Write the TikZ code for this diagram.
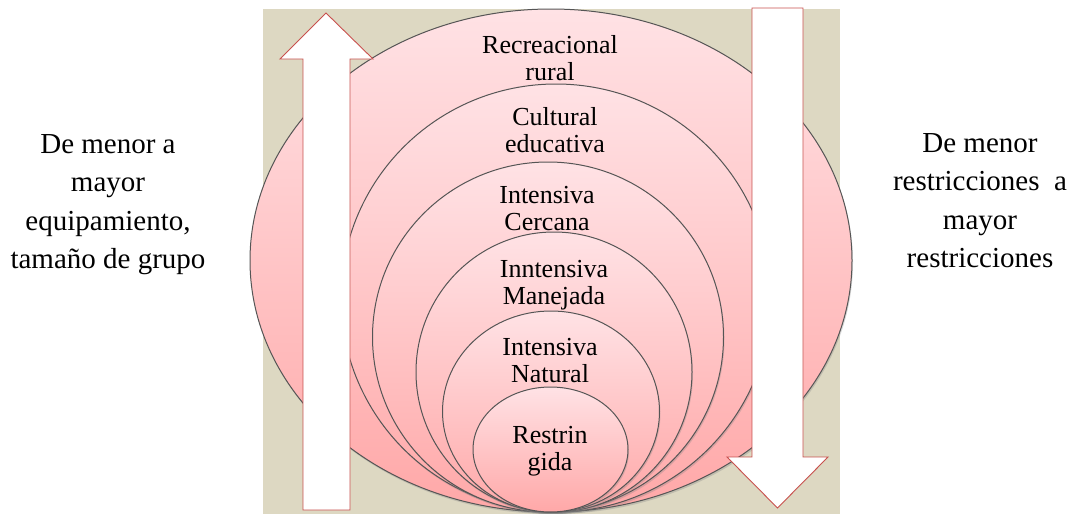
\documentclass[tikz,border=0pt]{standalone}
\usepackage{fontspec}
\setmainfont{Liberation Serif}
\usetikzlibrary{shapes.geometric,shadows}
\definecolor{beige}{RGB}{221,216,194}
\definecolor{pinktop}{RGB}{255,226,229}
\definecolor{pinkbot}{RGB}{255,168,168}
\definecolor{ringline}{RGB}{85,85,85}
\definecolor{arrowred}{RGB}{200,80,77}
\begin{document}
\begin{tikzpicture}[x=1pt,y=-1pt,
  ring/.style={ellipse, draw=ringline, line width=1pt, top color=pinktop, bottom color=pinkbot,
    inner sep=0pt, drop shadow={shadow xshift=1pt,shadow yshift=-2pt,opacity=0.3}},
  ringtext/.style={align=center, font=\fontsize{26}{27}\selectfont, anchor=base, inner sep=0pt},
  sidetext/.style={align=center, font=\fontsize{29}{38.5}\selectfont, anchor=base, inner sep=0pt},
  blockarrow/.style={fill=white, draw=arrowred, line width=0.9pt, line join=miter}]
\useasboundingbox (0,0) rectangle (1077,514);
\fill[beige] (263,8.5) rectangle (840,514);
% nested rings
\node[ring, minimum width=602pt, minimum height=503pt] (e1) at (551,260.5) {};
\node[ring, minimum width=430pt, minimum height=428pt] (e2) at (556,298) {};
\node[ring, minimum width=351pt, minimum height=350pt] (e3) at (548,337) {};
\node[ring, minimum width=276pt, minimum height=280pt] (e4) at (554,372) {};
\node[ring, minimum width=217pt, minimum height=201pt] (e5) at (551,411.5) {};
\node[ring, minimum width=155pt, minimum height=125pt] (e6) at (550.5,449.5) {};
% ring labels (anchor = baseline of last line)
\node[ringtext] (t1) at (550,80) {Recreacional\\rural};
\node[ringtext] (t2) at (555,152) {Cultural\\educativa};
\node[ringtext] (t3) at (547,230) {Intensiva\\Cercana};
\node[ringtext] (t4) at (554,304) {Inntensiva\\Manejada};
\node[ringtext] (t5) at (550,382) {Intensiva\\Natural};
\node[ringtext] (t6) at (550,470) {Restrin\\gida};
% block arrows
\draw[blockarrow] (326,13) -- (373,59) -- (350,59) -- (350,510) -- (303,510) -- (303,59) -- (280,59) -- cycle;
\draw[blockarrow] (752,8) -- (803,8) -- (803,457) -- (828,457) -- (777.5,508) -- (727,457) -- (752,457) -- cycle;
% side texts
\node[sidetext] (left) at (108,268.5) {De menor a\\mayor\\equipamiento,\\tamaño de grupo};
\node[sidetext] (right) at (980,267.5) {De menor\\restricciones~ a\\mayor\\restricciones};
\end{tikzpicture}
\end{document}
